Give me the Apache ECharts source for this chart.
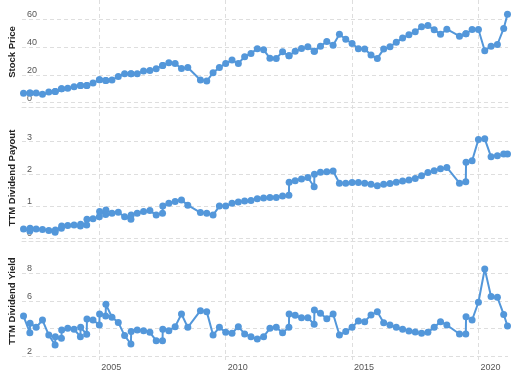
<!DOCTYPE html>
<html><head><meta charset="utf-8">
<script src="https://cdn.jsdelivr.net/npm/echarts@6/dist/echarts.min.js"></script>
<style>html,body{margin:0;padding:0;background:#fff}#c{width:529px;height:374px}</style>
</head><body><div id="c"></div>
<script>
// Quarterly dates (decimal years); near-duplicate dates mark dividend-change steps
const dates = [
  2002.00, 2002.25, 2002.26, 2002.50, 2002.75, 2003.00, 2003.25, 2003.26, 2003.50, 2003.51,
  2003.75, 2004.00, 2004.25, 2004.26, 2004.50, 2004.51, 2004.75, 2005.00, 2005.01, 2005.25,
  2005.26, 2005.50, 2005.75, 2006.00, 2006.25, 2006.26, 2006.50, 2006.75, 2007.00, 2007.25,
  2007.50, 2007.51, 2007.75, 2008.00, 2008.25, 2008.50, 2009.00, 2009.25, 2009.50, 2009.75,
  2010.00, 2010.25, 2010.50, 2010.75, 2011.00, 2011.25, 2011.50, 2011.75, 2012.00, 2012.25,
  2012.50, 2012.51, 2012.75, 2013.00, 2013.25, 2013.50, 2013.51, 2013.75, 2014.00, 2014.25,
  2014.50, 2014.75, 2015.00, 2015.25, 2015.50, 2015.75, 2016.00, 2016.25, 2016.50, 2016.75,
  2017.00, 2017.25, 2017.50, 2017.75, 2018.00, 2018.25, 2018.50, 2018.75, 2019.25, 2019.50,
  2019.51, 2019.75, 2020.00, 2020.25, 2020.50, 2020.75, 2021.00, 2021.15
];
const stockPrice = [
  6.7, 6.9, 6.9, 6.9, 6.0, 7.6, 8.1, 8.1, 10.0, 10.0,
  10.3, 11.5, 12.4, 12.4, 12.4, 12.4, 14.1, 16.5, 16.5, 16.0,
  16.0, 16.3, 18.9, 20.8, 20.8, 20.8, 20.8, 22.7, 23.2, 24.4,
  26.8, 26.8, 28.7, 28.2, 24.6, 25.3, 16.3, 15.5, 21.5, 25.3,
  28.2, 30.6, 28.2, 33.0, 35.4, 38.7, 38.0, 32.0, 31.8, 36.6,
  33.7, 33.7, 37.0, 39.0, 40.2, 37.0, 37.0, 40.6, 44.0, 41.3,
  49.2, 45.6, 42.5, 38.7, 38.5, 34.2, 31.8, 38.5, 40.2, 43.5,
  46.4, 48.8, 50.9, 54.5, 55.4, 52.3, 49.2, 52.8, 47.8, 49.5,
  49.5, 52.6, 52.6, 37.3, 40.6, 41.8, 53.3, 63.6
];
const dividendPayout = [
  0.29, 0.23, 0.31, 0.29, 0.27, 0.24, 0.19, 0.26, 0.31, 0.38,
  0.40, 0.41, 0.38, 0.44, 0.41, 0.59, 0.61, 0.67, 0.83, 0.74,
  0.88, 0.78, 0.81, 0.67, 0.59, 0.72, 0.78, 0.83, 0.86, 0.72,
  0.78, 1.00, 1.09, 1.14, 1.19, 1.03, 0.80, 0.78, 0.72, 1.00,
  1.00, 1.09, 1.13, 1.16, 1.17, 1.23, 1.25, 1.27, 1.27, 1.31,
  1.34, 1.74, 1.79, 1.84, 1.89, 1.60, 1.99, 2.05, 2.07, 2.09,
  1.71, 1.71, 1.73, 1.73, 1.71, 1.68, 1.63, 1.68, 1.70, 1.74,
  1.78, 1.81, 1.86, 1.94, 2.04, 2.10, 2.16, 2.20, 1.71, 1.76,
  2.36, 2.41, 3.07, 3.09, 2.53, 2.56, 2.62, 2.62
];
const dividendYield = [
  4.90, 3.69, 4.37, 4.08, 4.61, 3.52, 2.80, 3.40, 3.28, 3.88,
  4.01, 3.94, 3.40, 4.08, 3.57, 4.69, 4.61, 4.25, 5.05, 4.90,
  5.75, 4.81, 4.44, 3.48, 2.87, 3.77, 3.89, 3.84, 3.72, 3.11,
  3.11, 3.94, 3.84, 4.13, 5.05, 4.08, 5.29, 5.22, 3.52, 4.08,
  3.72, 3.65, 4.13, 3.60, 3.40, 3.23, 3.40, 4.01, 4.08, 3.69,
  4.08, 5.05, 4.95, 4.78, 4.78, 4.30, 5.34, 5.10, 4.71, 5.05,
  3.52, 3.77, 4.08, 4.54, 4.49, 4.98, 5.22, 4.42, 4.25, 4.08,
  3.94, 3.81, 3.74, 3.65, 3.72, 4.08, 4.49, 4.25, 3.60, 3.60,
  4.85, 4.61, 5.90, 8.31, 6.31, 6.26, 5.02, 4.18
];
const priceTicks = [0, 20, 40, 60];
const payoutTicks = [0, 1, 2, 3];
const yieldTicks = [2, 4, 6, 8];
const yearTicks = [2005, 2010, 2015, 2020];
const panelTitles = ['Stock Price', 'TTM Dividend Payout', 'TTM Dividend Yield'];

const chart = echarts.init(document.getElementById('c'));
const BLUE = '#5397da';
const GRID = '#dedede';
const FONT = 'Liberation Sans';
const xMin = 2001.94, xMax = 2021.17;

function paneX(gi, showLine) {
  return {
    type: 'value', gridIndex: gi, min: xMin, max: xMax,
    axisLine: { show: showLine, onZero: false, lineStyle: { color: GRID, type: [4, 3] } },
    axisTick: { show: false }, axisLabel: { show: false }, splitLine: { show: false }
  };
}
function paneY(gi, min, max, ticks) {
  return {
    type: 'value', gridIndex: gi, min: min, max: max,
    axisLine: { show: false },
    axisTick: { show: false, customValues: ticks },
    axisLabel: { inside: true, customValues: ticks, margin: 5, fontSize: 9, color: '#555',
                 fontFamily: FONT, verticalAlign: 'bottom' },
    splitLine: { show: true, lineStyle: { color: GRID, type: [4, 3], width: 1 } }
  };
}
function pairs(vals) { return dates.map((d, i) => [d, vals[i]]); }
function lineSeries(idx, vals) {
  return {
    type: 'line', xAxisIndex: idx, yAxisIndex: idx, data: pairs(vals),
    symbol: 'circle', symbolSize: 7, showAllSymbol: true, clip: false,
    itemStyle: { color: BLUE }, lineStyle: { color: BLUE, width: 2 },
    animation: false
  };
}
function title(text, y) {
  return { type: 'text', x: 12, y: y, rotation: Math.PI / 2,
    style: { text: text, font: 'bold 9.5px "Liberation Sans"', fill: '#222', align: 'center', verticalAlign: 'middle' } };
}

chart.setOption({
  animation: false,
  grid: [
    { left: 22, width: 486, top: 0, height: 107.3 },
    { left: 22, width: 486, top: 120, height: 121 },
    { left: 22, width: 486, top: 250, height: 110 },
    { left: 22, width: 486, top: 0, height: 360 }
  ],
  xAxis: [
    paneX(0, true), paneX(1, true), paneX(2, false),
    {
      type: 'value', gridIndex: 3, min: xMin, max: xMax,
      axisLine: { show: false },
      axisTick: { show: false, customValues: yearTicks },
      axisLabel: { customValues: yearTicks, formatter: v => String(v), align: 'left', margin: 3,
                   fontSize: 9, color: '#555', fontFamily: FONT, padding: [0, 0, 0, 2] },
      splitLine: { show: true, lineStyle: { color: GRID, type: [4, 3], width: 1 } }
    }
  ],
  yAxis: [
    paneY(0, -3.30, 73.75, priceTicks),
    paneY(1, -0.084, 3.674, payoutTicks),
    paneY(2, 1.71, 9.692, yieldTicks),
    { type: 'value', gridIndex: 3, min: 0, max: 1, show: false, splitLine: { show: false } }
  ],
  series: [
    lineSeries(0, stockPrice),
    lineSeries(1, dividendPayout),
    lineSeries(2, dividendYield)
  ],
  graphic: [
    title(panelTitles[0], 52),
    title(panelTitles[1], 178),
    title(panelTitles[2], 301)
  ]
});
</script></body></html>
